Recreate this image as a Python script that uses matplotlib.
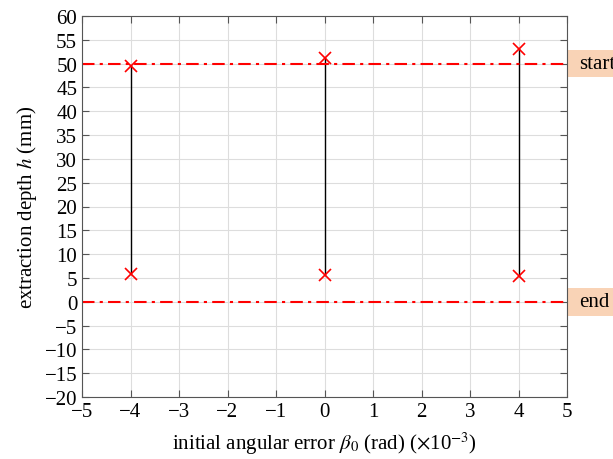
import matplotlib.pyplot as plt
from matplotlib.patches import Rectangle

plt.rcParams['font.family'] = ['Liberation Serif', 'DejaVu Serif']
plt.rcParams['mathtext.fontset'] = 'stix'

# data
beta0 = [-4, 0, 4]
h_top = [49.4, 51.2, 53.1]
h_bottom = [5.8, 5.7, 5.4]
h_start = 50
h_end = 0
xticks = list(range(-5, 6))
yticks = list(range(-20, 61, 5))

fig = plt.figure(figsize=(6.13, 4.6), dpi=100)
ax = fig.add_axes([82 / 613, 1 - 398 / 460, (567 - 82) / 613, (398 - 17) / 460])

ax.grid(True, color='#dddddd', linewidth=0.8)
ax.set_axisbelow(True)

for x, top, bot in zip(beta0, h_top, h_bottom):
    ax.plot([x, x], [bot, top], color='black', linewidth=1.0, zorder=2)
ax.plot(beta0, h_top, 'x', color='red', markersize=8, markeredgewidth=1.2, zorder=3)
ax.plot(beta0, h_bottom, 'x', color='red', markersize=8, markeredgewidth=1.2, zorder=3)

for h in (h_start, h_end):
    ax.axhline(h, color='red', linewidth=1.5, zorder=2.5, dashes=(6, 2.5, 1.5, 2.5))

ax.set_xlim(-5, 5)
ax.set_ylim(-20, 60)
ax.set_xticks(xticks)
ax.set_yticks(yticks)
ax.set_xticklabels([str(t).replace('-', '\u2212') for t in xticks])
ax.set_yticklabels([str(t).replace('-', '\u2212') for t in yticks])
ax.tick_params(direction='in', top=True, right=True, labelsize=15, length=5, color='#555555')
for s in ax.spines.values():
    s.set_color('#555555')

ax.set_xlabel(r'initial angular error $\beta_0$ (rad) ($\times$10$^{-3}$)', fontsize=15, labelpad=6)
ax.set_ylabel(r'extraction depth $h$ (mm)', fontsize=15, labelpad=4)

trans = ax.get_yaxis_transform()
for h, label in ((h_start, 'start'), (h_end, 'end')):
    ax.add_patch(Rectangle((1.003, h - 2.9), 0.2, 5.8, transform=trans,
                           facecolor='#f9d3b6', edgecolor='none', clip_on=False))
    ax.text(1.025, h, label, transform=trans, fontsize=15,
            va='center', ha='left', clip_on=False)

plt.savefig('out.png', dpi=100)
